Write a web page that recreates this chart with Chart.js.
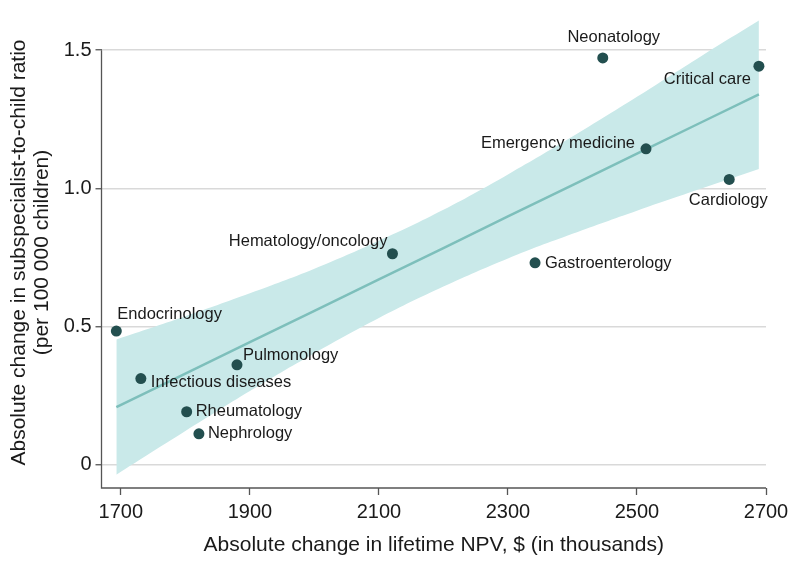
<!DOCTYPE html>
<html>
<head>
<meta charset="utf-8">
<script src="https://cdn.jsdelivr.net/npm/chart.js@4/dist/chart.umd.min.js"></script>
<style>
  html, body { margin: 0; padding: 0; background: #fff; }
  #wrap { width: 794px; height: 574px; }
</style>
</head>
<body>
<div id="wrap"><canvas id="chart" width="794" height="574"></canvas></div>
<script>
// Specialties and their values
const specialties = ['Neonatology', 'Critical care', 'Emergency medicine', 'Cardiology',
  'Hematology/oncology', 'Gastroenterology', 'Endocrinology', 'Pulmonology',
  'Infectious diseases', 'Rheumatology', 'Nephrology'];
const npvChange = [2447, 2689, 2514, 2643, 2121, 2342, 1693, 1880, 1731, 1802, 1821];
const ratioChange = [1.472, 1.442, 1.143, 1.032, 0.763, 0.730, 0.483, 0.361, 0.311, 0.191, 0.111];

// Fitted line and 95% band, read at a few x positions
const fitX = [1693, 1800, 1900, 2000, 2100, 2200, 2300, 2400, 2500, 2600, 2689];
const fitY = [0.208, 0.329, 0.443, 0.556, 0.670, 0.783, 0.898, 1.011, 1.125, 1.239, 1.340];
const bandUpper = [0.453, 0.537, 0.620, 0.709, 0.810, 0.922, 1.050, 1.187, 1.331, 1.479, 1.607];
const bandLower = [-0.037, 0.121, 0.266, 0.403, 0.530, 0.644, 0.746, 0.835, 0.919, 0.999, 1.070];

const xTicks = [1700, 1900, 2100, 2300, 2500, 2700];
const yTicks = [0, 0.5, 1.0, 1.5];

// label placement: [dx, dy, align] relative to the point
const labelPlace = [
  [11, -20, 'center'], [-8, 13, 'right'], [-11, -5, 'right'], [-1, 21, 'center'],
  [-5, -12, 'right'], [10, 1, 'left'], [1, -17, 'left'], [6, -9, 'left'],
  [10, 4, 'left'], [9, 0, 'left'], [9, 0, 'left']
];

const FONT = "'Liberation Sans', Arial, sans-serif";
const axisColor = '#555555';
const textColor = '#1a1a1a';

const pts = (xs, ys) => xs.map((x, i) => ({ x: x, y: ys[i] }));

// point labels + stata-like axis lines
const extras = {
  id: 'extras',
  afterDatasetsDraw(chart) {
    const ctx = chart.ctx;
    const meta = chart.getDatasetMeta(0);
    ctx.save();
    ctx.font = '16.5px ' + FONT;
    ctx.fillStyle = textColor;
    ctx.textBaseline = 'middle';
    meta.data.forEach((el, i) => {
      const p = labelPlace[i];
      ctx.textAlign = p[2];
      ctx.fillText(specialties[i], el.x + p[0], el.y + p[1]);
    });
    ctx.restore();
  },
  afterDraw(chart) {
    const ctx = chart.ctx;
    const xs = chart.scales.x, ys = chart.scales.y;
    const left = chart.chartArea.left, bottom = chart.chartArea.bottom;
    ctx.save();
    ctx.strokeStyle = axisColor;
    ctx.lineWidth = 1.3;
    ctx.beginPath();
    ctx.moveTo(left, ys.getPixelForValue(1.5));
    ctx.lineTo(left, bottom);
    ctx.lineTo(xs.getPixelForValue(2700), bottom);
    ctx.stroke();
    ctx.restore();
  }
};

new Chart(document.getElementById('chart').getContext('2d'), {
  type: 'scatter',
  data: {
    datasets: [
      {
        data: pts(npvChange, ratioChange),
        backgroundColor: '#234f4f',
        borderWidth: 0,
        pointRadius: 5.5
      },
      {
        data: pts(fitX, fitY),
        showLine: true,
        borderColor: '#7dbfbb',
        borderWidth: 2.5,
        pointRadius: 0
      },
      {
        data: pts(fitX, bandUpper),
        showLine: true,
        borderWidth: 0,
        pointRadius: 0,
        tension: 0.4,
        backgroundColor: '#c9e9e9',
        fill: '+1'
      },
      {
        data: pts(fitX, bandLower),
        showLine: true,
        borderWidth: 0,
        pointRadius: 0,
        tension: 0.4
      }
    ]
  },
  options: {
    responsive: false,
    animation: false,
    layout: { padding: { left: 0, right: 28, top: 17, bottom: 12 } },
    plugins: { legend: { display: false }, tooltip: { enabled: false } },
    scales: {
      x: {
        type: 'linear',
        min: 1670,
        max: 2700,
        afterBuildTicks: s => { s.ticks = xTicks.map(v => ({ value: v })); },
        afterFit: s => { s.height = 74; },
        border: { display: false },
        grid: { drawOnChartArea: false, tickLength: 7, tickColor: axisColor, tickWidth: 1.3 },
        ticks: { font: { family: FONT, size: 20 }, color: textColor, padding: 5, maxRotation: 0,
          callback: v => String(v) },
        title: { display: true, text: 'Absolute change in lifetime NPV, $ (in thousands)',
          font: { family: FONT, size: 21 }, color: textColor, padding: { top: 2, bottom: 4 } }
      },
      y: {
        type: 'linear',
        min: -0.085,
        max: 1.62,
        afterBuildTicks: s => { s.ticks = yTicks.map(v => ({ value: v })); },
        afterFit: s => { s.width = 101.5; },
        border: { display: false },
        grid: { color: '#d9d9d9', lineWidth: 1.5, tickLength: 6, tickColor: axisColor, tickWidth: 1.3 },
        ticks: { font: { family: FONT, size: 20 }, color: textColor, padding: 4,
          callback: v => (v === 0 ? '0' : v.toFixed(1)) },
        title: { display: true,
          text: ['Absolute change in subspecialist-to-child ratio', '(per 100 000 children)'],
          font: { family: FONT, size: 21, lineHeight: 1.08 }, color: textColor,
          padding: { top: 8, bottom: 0 } }
      }
    }
  },
  plugins: [extras]
});
</script>
</body>
</html>
